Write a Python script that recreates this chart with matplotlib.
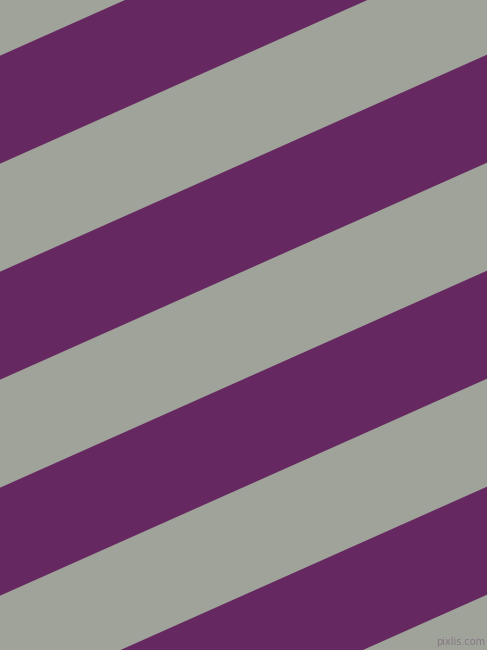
import numpy as np
import matplotlib
matplotlib.use("Agg")
import matplotlib.pyplot as plt

# stripe pattern: purple bands over a gray ground
W, H = 487, 650
gray = "#a0a39a"
purple = "#662860"

band_top = [55.7, 271.7, 487.7, 703.7]   # y where each purple band starts at the left edge
band_height = 108.0
slope = 0.4456                            # rise per pixel going right

fig = plt.figure(figsize=(W / 100, H / 100), dpi=100)
ax = fig.add_axes([0, 0, 1, 1])
ax.set_facecolor(gray)
ax.set_xlim(0, W)
ax.set_ylim(H, 0)
ax.axis("off")
fig.patch.set_facecolor(gray)

x = np.array([0, W])
for y0 in band_top:
    top = y0 - slope * x
    ax.fill_between(x, top, top + band_height, color=purple, linewidth=0)

ax.text(W - 2, H - 3, "pixlis.com", color="#857885", fontsize=7,
        ha="right", va="bottom")

fig.savefig("out.png", dpi=100, facecolor=gray)
